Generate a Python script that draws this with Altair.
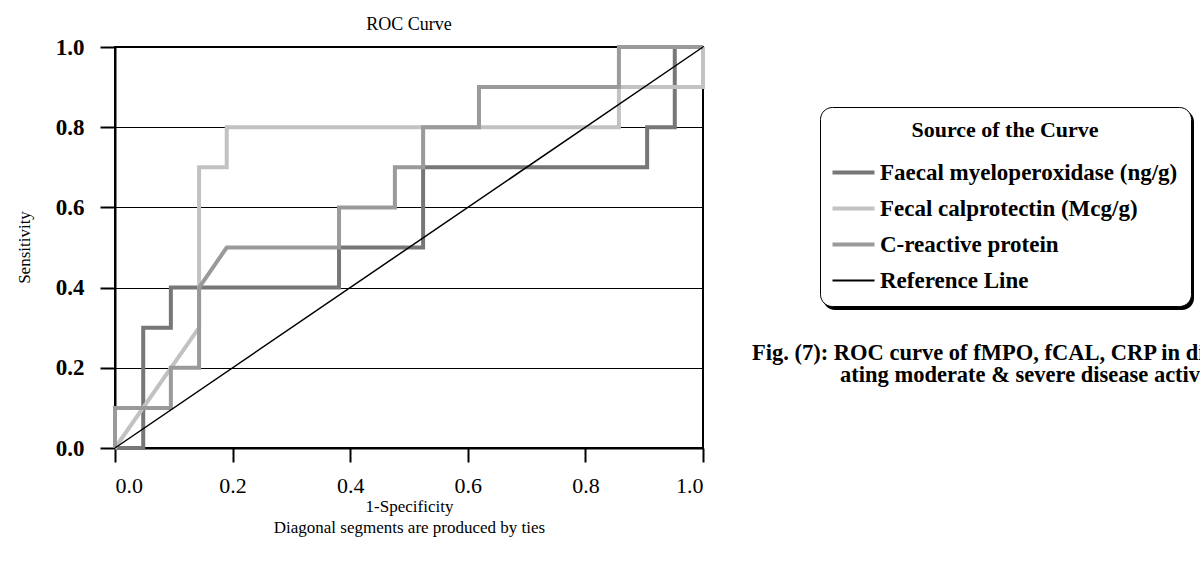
import altair as alt
import pandas as pd

# ---- data ----
fmpo_x = [0.0, 0.048, 0.048, 0.095, 0.095, 0.381, 0.381, 0.524, 0.524, 0.905, 0.905, 0.952, 0.952, 1.0]
fmpo_y = [0.0, 0.0, 0.3, 0.3, 0.4, 0.4, 0.5, 0.5, 0.7, 0.7, 0.8, 0.8, 1.0, 1.0]

fcal_x = [0.0, 0.143, 0.143, 0.190, 0.190, 0.857, 0.857, 1.0, 1.0]
fcal_y = [0.0, 0.3, 0.7, 0.7, 0.8, 0.8, 0.9, 0.9, 1.0]

crp_x = [0.0, 0.0, 0.095, 0.095, 0.143, 0.143, 0.190, 0.381, 0.381, 0.476, 0.476,
         0.524, 0.524, 0.619, 0.619, 0.857, 0.857, 1.0]
crp_y = [0.0, 0.1, 0.1, 0.2, 0.2, 0.4, 0.5, 0.5, 0.6, 0.6, 0.7, 0.7, 0.8, 0.8,
         0.9, 0.9, 1.0, 1.0]

ref_x = [0.0, 1.0]
ref_y = [0.0, 1.0]

series_names = ["Faecal myeloperoxidase (ng/g)", "Fecal calprotectin (Mcg/g)",
                "C-reactive protein", "Reference Line"]
series_colors = ["#777777", "#c2c2c2", "#9a9a9a", "#000000"]
series_widths = [4, 4, 4, 1.5]

tick_values = [0.0, 0.2, 0.4, 0.6, 0.8, 1.0]

caption_line1 = "Fig. (7): ROC curve of fMPO, fCAL, CRP in differenti-"
caption_line2 = "ating moderate & severe disease activity"

# ---- build table ----
rows = []
for name, w, xs, ys in zip(series_names, series_widths,
                           [fmpo_x, fcal_x, crp_x, ref_x], [fmpo_y, fcal_y, crp_y, ref_y]):
    for i, (xv, yv) in enumerate(zip(xs, ys)):
        rows.append({"series": name, "x": xv, "y": yv, "order": i, "sw": w})
df = pd.DataFrame(rows)

FONT = "Liberation Serif"

xscale = alt.Scale(domain=[0, 1], nice=False, zero=False)
yscale = alt.Scale(domain=[0, 1], nice=False, zero=False)

legend = alt.Legend(
    title="Source of the Curve", orient="none", legendX=705, legendY=60,
    symbolType="stroke", symbolSize=1764, symbolOffset=9,
    symbolStrokeWidth={"expr": "datum.value === 'Reference Line' ? 2 : 4"},
    labelFont=FONT, labelFontSize=23, labelFontWeight="bold",
    labelColor="black", labelOffset=15, labelLimit=600,
    titleFont=FONT, titleFontSize=22, titleFontWeight="bold", titleLimit=600,
    titleColor="black", titleAnchor="middle", titleAlign="center",
    titlePadding=19, rowPadding=12,
    strokeColor="black", cornerRadius=12, fillColor="white", padding=13,
)

# legend shadow (drawn behind the legend box)
shadow = alt.Chart(pd.DataFrame({"k": [0]})).mark_rect(
    color="black", cornerRadius=12
).encode(x=alt.value(708), x2=alt.value(1079), y=alt.value(63), y2=alt.value(263))

lines = alt.Chart(df).mark_line(strokeCap="butt", strokeJoin="miter").encode(
    x=alt.X("x:Q", scale=xscale,
            axis=alt.Axis(values=tick_values, format=".1f", grid=False,
                          title=["1-Specificity", "Diagonal segments are produced by ties"],
                          labelFontSize=22, labelFont=FONT, labelPadding=13,
                          labelColor="black",
                          tickSize=14, tickWidth=2, tickColor="black",
                          domainWidth=2, domainColor="black",
                          titleFontSize=17, titleFont=FONT, titleFontWeight="normal",
                          titleColor="black", titleY=50, titleBaseline="top",
                          titleLineHeight=21)),
    y=alt.Y("y:Q", scale=yscale,
            axis=alt.Axis(values=tick_values, format=".1f", grid=True,
                          gridColor="black", gridWidth=1.2, gridOpacity=1,
                          title="Sensitivity",
                          labelFontSize=23, labelFont=FONT, labelFontWeight="bold",
                          labelColor="black", labelPadding=16,
                          tickSize=15, tickWidth=2, tickColor="black",
                          domainWidth=2, domainColor="black",
                          titleFontSize=17, titleFont=FONT, titleFontWeight="normal",
                          titleColor="black",
                          titleX=-91, titleY=200, titleBaseline="middle")),
    color=alt.Color("series:N",
                    scale=alt.Scale(domain=series_names, range=series_colors),
                    sort=series_names, legend=legend),
    strokeWidth=alt.StrokeWidth("sw:Q", scale=None, legend=None),
    order="order:Q",
    detail="series:N",
)

cap1 = alt.Chart(pd.DataFrame({"t": [caption_line1]})).mark_text(
    font=FONT, fontSize=22.5, fontWeight="bold", align="left", baseline="middle", color="black"
).encode(x=alt.value(637), y=alt.value(306), text="t:N")

cap2 = alt.Chart(pd.DataFrame({"t": [caption_line2]})).mark_text(
    font=FONT, fontSize=22.5, fontWeight="bold", align="left", baseline="middle", color="black"
).encode(x=alt.value(725), y=alt.value(328), text="t:N")

chart = alt.layer(shadow, lines, cap1, cap2).properties(
    width=588, height=401,
    background="white",
    title=alt.TitleParams("ROC Curve", font=FONT, fontSize=18, fontWeight="normal",
                          color="black", anchor="middle", frame="group", offset=14, dy=12),
    autosize=alt.AutoSizeParams(type="none"),
    padding={"left": 115, "top": 47, "right": 497, "bottom": 129},
).configure_view(
    stroke="black", strokeWidth=2
)

chart.save("out.html", embed_options={"renderer": "svg", "actions": False})
